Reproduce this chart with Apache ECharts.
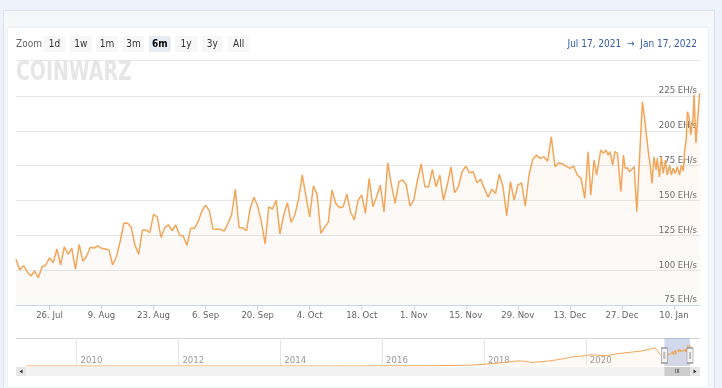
<!DOCTYPE html>
<html><head><meta charset="utf-8">
<script src="https://cdn.jsdelivr.net/npm/echarts@6/dist/echarts.min.js"></script>
<style>
html,body{margin:0;padding:0;width:722px;height:388px;overflow:hidden;background:#eef3fb;}
#outer{position:absolute;left:3px;top:10px;width:712px;height:380px;background:#f6f7f9;border:1px solid #dde2ea;box-sizing:border-box;}
#card{position:absolute;left:8px;top:28px;width:700px;height:359px;background:#fff;box-shadow:0 0 2px rgba(0,0,0,0.08);}
#chart{position:absolute;left:0;top:0;width:722px;height:388px;}
</style></head><body>
<div id="outer"></div><div id="card"></div><div id="chart"></div>
<script>
// ---------- data ----------
const seriesStart = '2021-07-17';
const seriesEnd = '2022-01-17';
// daily network hashrate (EH/s), one value per day starting at seriesStart
const dailyHashrate = [108, 100.1, 103.2, 98.9, 95.8, 99.4, 94.6, 102.5, 103.5, 108.9,
 105.4, 115.2, 103.7, 116.8, 111.4, 115.9, 100.6, 118.5, 106.3, 110.2,
 116.4, 115.9, 117.5, 115.7, 115.2, 114.7, 103.7, 109.6, 120.4, 133.6,
 133.8, 130.7, 118, 111.4, 128.8, 128.8, 126.9, 140, 138.3, 123.5,
 130.4, 132.6, 128.3, 132.4, 125, 124.5, 117.8, 130, 130, 134.8,
 142.4, 146.7, 142.7, 129.5, 129.3, 129.3, 128.1, 133.6, 139.6, 158,
 130.7, 130.4, 128.3, 144.4, 152.3, 146, 134.8, 118.8, 145.5, 143.9,
 150.3, 125.9, 139.6, 148.4, 134.3, 139.6, 151, 168.3, 153.2, 138.3,
 160.6, 154.4, 126.4, 130.7, 134.3, 157.5, 148, 144.8, 145.5, 154.6,
 141.9, 136, 150, 154, 140.8, 165.9, 145.5, 152.7, 161.1, 141.9,
 177.1, 161.1, 148, 163.5, 164.7, 161.1, 146, 150.3, 164.7, 176.2,
 159.9, 159.9, 172.3, 159.9, 168.3, 150.3, 161.1, 174.2, 155.6, 159.9,
 170.6, 174.7, 169.9, 170.6, 162.7, 165.2, 158.7, 152.3, 158, 155.1,
 169, 159.9, 139.1, 163.5, 150.3, 161.1, 162.7, 146, 168.3, 179.5,
 182.6, 180.2, 181.4, 178.3, 195.7, 174.2, 177.1, 176.2, 174.7, 173.1,
 174.7, 168.3, 165.9, 151.6];
// denser recent readings: time in days after seriesStart, and value (EH/s)
const lateDays = [153.9, 154.6, 155.5, 156.2, 157.3, 158.0, 158.7, 159.3, 159.8, 160.5,
 161.1, 161.8, 162.7, 163.4, 163.9, 164.5, 165.0, 165.5, 166.3, 167.0,
 168.5, 169.1, 169.7, 170.1, 170.6, 171.1, 171.6, 172.2, 172.5, 173.1,
 173.6, 174.1, 174.7, 175.2, 175.8, 176.3, 176.8, 177.4, 177.9, 178.5,
 179.0, 179.5, 179.9, 180.3, 180.6, 181.1, 181.5, 182.1, 182.4, 182.9,
 183.3, 183.9];
const lateHashrate = [185, 153.9, 179, 168.3, 186.2, 183.8, 186.2, 182.6, 185, 175.4,
 185, 183.8, 156.3, 182.6, 173, 173.5, 170.6, 171.9, 174.2, 142,
 220.9, 208.9, 194.6, 185, 175.4, 162.3, 181.4, 171.9, 180.2, 167,
 181.4, 169.5, 179, 168.3, 175.4, 168.3, 173.1, 169.5, 174.2, 168.3,
 175.4, 171.1, 186.2, 194.6, 213.7, 209, 197, 207.7, 226, 191.1,
 206.5, 227];
// long history shown in the navigator
const navDates = ['2009-01-03','2010-06-01','2011-06-01','2013-01-01','2014-01-01','2015-01-01','2016-01-01','2016-07-01','2017-01-01','2017-07-01','2017-10-01','2018-01-01','2018-03-01','2018-05-01','2018-07-01','2018-09-01','2018-10-15','2018-12-10','2019-02-01','2019-04-01','2019-06-01','2019-08-01','2019-10-01','2019-12-01','2020-02-01','2020-04-01','2020-06-01','2020-08-01','2020-10-01','2020-12-01','2021-02-01','2021-04-01','2021-05-10','2021-06-05','2021-06-25','2021-07-10'];
const navHashrate = [0, 0, 0.01, 0.02, 0.012, 0.3, 0.8, 1.5, 2.8, 6.5, 10, 18, 26, 34, 45, 55, 52, 38, 45, 52, 65, 80, 100, 105, 120, 115, 110, 130, 140, 150, 160, 180, 195, 150, 110, 95];
const mainTickDates = ['2021-07-26','2021-08-09','2021-08-23','2021-09-06','2021-09-20','2021-10-04','2021-10-18','2021-11-01','2021-11-15','2021-11-29','2021-12-13','2021-12-27','2022-01-10'];
const navTickDates = ['2010-01-01','2012-01-01','2014-01-01','2016-01-01','2018-01-01','2020-01-01'];
const monthNames = ['Jan','Feb','Mar','Apr','May','Jun','Jul','Aug','Sep','Oct','Nov','Dec'];
const rangeButtons = ['1d','1w','1m','3m','6m','1y','3y','All'];
const selectedButton = '6m';
const rangeText = 'Jul 17, 2021  \u2192  Jan 17, 2022';
const unit = 'EH/s';

// ---------- build ----------
const FONT = "'DejaVu Sans Condensed','Liberation Sans Narrow',Roboto,sans-serif";
const DAY = 86400000;
function parseDate(s){ const p = s.split('-').map(Number); return new Date(p[0], p[1]-1, p[2]).getTime(); }
const t0 = parseDate(seriesStart), t1 = parseDate(seriesEnd);
const mainData = dailyHashrate.map((v,i)=>[t0 + i*DAY, v])
  .concat(lateDays.map((d,i)=>[t0 + d*DAY, lateHashrate[i]]));
const navData = navDates.map((d,i)=>[parseDate(d), navHashrate[i]]).concat(mainData);
const navStart = parseDate(navDates[0]);
const mainTicks = mainTickDates.map(parseDate);
const navTicks = navTickDates.map(parseDate);

const graphics = [];
graphics.push({type:'line', silent:true, shape:{x1:16,y1:60.5,x2:700,y2:60.5}, style:{stroke:'#e6e6e6', lineWidth:1}});
graphics.push({type:'text', x:16, y:44, style:{text:'Zoom', fill:'#666', font:'10px '+FONT, verticalAlign:'middle', textVerticalAlign:'middle'}});
rangeButtons.forEach((b,i)=>{
  const x = 43.5 + i*26.3, sel = b===selectedButton;
  graphics.push({type:'rect', shape:{x:x, y:36, width:22, height:16, r:2}, style:{fill: sel?'#e6ebf5':'#f7f7f7'}});
  graphics.push({type:'text', x:x+11, y:44.5, style:{text:b, fill: sel?'#000':'#333', font:(sel?'bold ':'')+'10px '+FONT, align:'center', textAlign:'center', verticalAlign:'middle', textVerticalAlign:'middle'}});
});
graphics.push({type:'text', x:697, y:44, style:{text:rangeText, fill:'#335cad', font:'10px '+FONT, align:'right', textAlign:'right', verticalAlign:'middle', textVerticalAlign:'middle'}});
graphics.push({type:'text', x:16, y:73, scaleX:0.7, silent:true, style:{text:'COINWARZ', fill:'#e6e6e6', font:"bold 27px 'DejaVu Sans',sans-serif", verticalAlign:'middle', textVerticalAlign:'middle'}});

const chart = echarts.init(document.getElementById('chart'), null, {renderer:'canvas'});
const option = {
  animation: false,
  backgroundColor: 'transparent',
  textStyle: {fontFamily: FONT},
  grid: [
    {left:16, right:22, top:96, height:209},
    {left:26, right:32, top:338, height:28}
  ],
  xAxis: [
    {type:'value', gridIndex:0, min:t0, max:t1, scale:true,
     axisLine:{lineStyle:{color:'#ccd6eb'}},
     axisTick:{show:true, length:5, lineStyle:{color:'#ccd6eb'}, customValues: mainTicks},
     axisLabel:{customValues: mainTicks, color:'#666', fontSize:9.5, margin:6,
       formatter: v => { const d = new Date(v); return d.getDate() + '. ' + monthNames[d.getMonth()]; }},
     splitLine:{show:false}},
    {type:'value', gridIndex:1, min:navStart, max:t1, scale:true,
     axisLine:{show:false},
     axisTick:{show:false, customValues: navTicks},
     axisLabel:{customValues: navTicks, inside:true, align:'left', padding:[0,0,0,4], color:'#999', fontSize:9.5, margin:0,
       formatter: v => String(new Date(v).getFullYear())},
     splitLine:{show:true, lineStyle:{color:'#e6e6e6'}}}
  ],
  yAxis: [
    {type:'value', gridIndex:0, position:'right', min:75, max:225, interval:25,
     axisLine:{show:false}, axisTick:{show:false},
     axisLabel:{inside:true, align:'right', verticalAlign:'bottom', margin:3, lineHeight:10,
       color:'#666', fontSize:9.5, formatter: v => v + ' ' + unit},
     splitLine:{show:true, lineStyle:{color:'#e6e6e6'}}},
    {type:'value', gridIndex:1, min:0, max:300, show:false, splitLine:{show:false}}
  ],
  series: [
    {type:'line', name:'Hashrate', xAxisIndex:0, yAxisIndex:0, data: mainData,
     showSymbol:false, clip:false, lineStyle:{color:'#f2a65a', width:1.5}, itemStyle:{color:'#f2a65a'},
     areaStyle:{color:{type:'linear', x:0, y:0, x2:0, y2:1, colorStops:[
       {offset:0, color:'rgba(247,163,92,0.12)'}, {offset:1, color:'rgba(210,205,200,0.12)'}]}}},
    {type:'line', name:'Navigator', xAxisIndex:1, yAxisIndex:1, data: navData,
     showSymbol:false, lineStyle:{color:'#f2a65a', width:1}, itemStyle:{color:'#f2a65a'},
     areaStyle:{color:'rgba(247,163,92,0.08)'},
     markArea:{silent:true, itemStyle:{color:'rgba(102,133,194,0.3)'}, data:[[{xAxis:t0},{xAxis:t1}]]},
     markPoint:{silent:true, label:{show:false},
       symbol:'path://M0,0 L6,0 L6,15 L0,15 Z M2.5,4 L2.5,11 M3.5,4 L3.5,11',
       symbolSize:[6,15],
       itemStyle:{color:'#f2f2f2', borderColor:'#999', borderWidth:1},
       data:[{coord:[t0,112]},{coord:[t1,112]}]}}
  ],
  graphic: graphics
};
chart.setOption(option);

// navigator outline + scrollbar, placed from the navigator axis
const xa = chart.convertToPixel({xAxisIndex:1}, t0);
const xb = chart.convertToPixel({xAxisIndex:1}, t1);
const extra = [
  {type:'line', silent:true, shape:{x1:16,y1:338.5,x2:700,y2:338.5}, style:{stroke:'#d6d6d6', lineWidth:1}},
  {type:'rect', shape:{x:16, y:367, width:684, height:9}, style:{fill:'#f2f2f2'}},
  {type:'rect', shape:{x:16, y:367, width:10, height:9}, style:{fill:'#e6e6e6'}},
  {type:'polygon', shape:{points:[[22.5,369.5],[22.5,373.5],[19.5,371.5]]}, style:{fill:'#333'}},
  {type:'rect', shape:{x:690, y:367, width:10, height:9}, style:{fill:'#e6e6e6'}},
  {type:'polygon', shape:{points:[[693.5,369.5],[693.5,373.5],[696.5,371.5]]}, style:{fill:'#333'}},
  {type:'rect', shape:{x:xa, y:367, width:xb-xa, height:9}, style:{fill:'#cccccc'}},
  {type:'text', x:(xa+xb)/2, y:371.5, style:{text:'III', fill:'#333', font:'6px '+FONT, align:'center', textAlign:'center', verticalAlign:'middle', textVerticalAlign:'middle'}}
];
chart.setOption({graphic: graphics.concat(extra)});
</script></body></html>
